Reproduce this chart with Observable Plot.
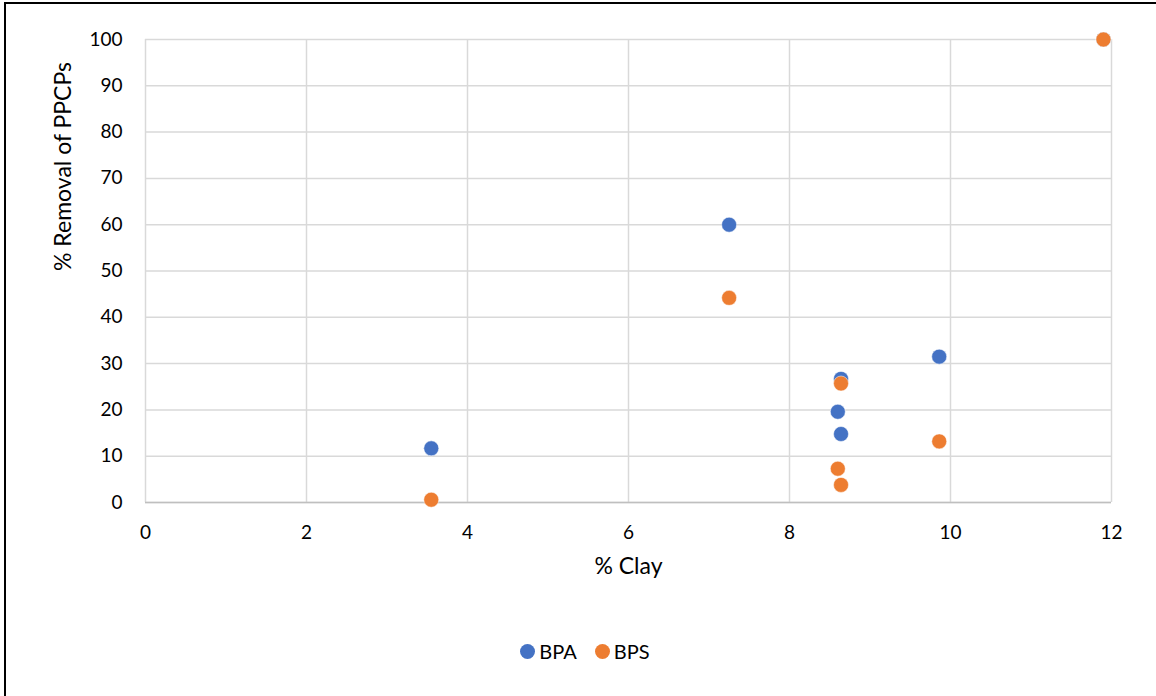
<!DOCTYPE html>
<html>
<head>
<meta charset="utf-8">
<script src="https://cdn.jsdelivr.net/npm/d3@7"></script>
<script src="https://cdn.jsdelivr.net/npm/@observablehq/plot@0.6"></script>
<style>
  html, body { margin: 0; padding: 0; background: #fff; }
  #wrap { position: relative; width: 1156px; height: 696px; overflow: hidden; font-family: Lato, "Open Sans", sans-serif; }
  #frame { position: absolute; left: 4px; top: 2px; width: 1300px; height: 900px; border-left: 2px solid #000; border-top: 2px solid #000; pointer-events: none; }
  #chart { position: absolute; left: 0; top: 0; }
  #legend { position: absolute; top: 639px; left: 0; width: 1156px; display: flex; justify-content: center; gap: 18px; font-size: 20px; color: #000; padding-left: 14px; box-sizing: border-box; }
  .item { display: flex; align-items: center; gap: 4px; }
  .sw { width: 15px; height: 15px; border-radius: 50%; display: inline-block; }
</style>
</head>
<body>
<div id="wrap">
  <div id="chart"></div>
  <div id="legend"></div>
  <div id="frame"></div>
</div>
<script>
const clay = [3.55, 7.25, 8.6, 8.64, 8.64, 9.86, 11.9];
const bpa  = [11.7, 60, 19.6, 26.7, 14.8, 31.5, 100];
const bps  = [0.6, 44.2, 7.3, 25.7, 3.8, 13.2, 100];
const seriesNames = ["BPA", "BPS"];
const seriesColors = ["#4472C4", "#ED7D31"];
const xTicks = [0, 2, 4, 6, 8, 10, 12];
const yTicks = [0, 10, 20, 30, 40, 50, 60, 70, 80, 90, 100];
const xLabel = "% Clay";
const yLabel = "% Removal of PPCPs";

const rows = [];
clay.forEach((c, i) => rows.push({clay: c, value: bpa[i], series: "BPA"}));
clay.forEach((c, i) => rows.push({clay: c, value: bps[i], series: "BPS"}));

const chart = Plot.plot({
  width: 1156,
  height: 610,
  marginLeft: 145,
  marginRight: 45,
  marginTop: 39,
  marginBottom: 108,
  style: {fontFamily: "Lato, 'Open Sans', sans-serif", fontSize: "19px", color: "#000", background: "transparent"},
  x: {domain: [0, 12]},
  y: {domain: [0, 100]},
  color: {domain: seriesNames, range: seriesColors},
  marks: [
    Plot.gridX(xTicks, {stroke: "#d9d9d9", strokeOpacity: 1, strokeWidth: 1.5}),
    Plot.gridY(yTicks, {stroke: "#d9d9d9", strokeOpacity: 1, strokeWidth: 1.5}),
    Plot.ruleY([0], {stroke: "#bfbfbf", strokeWidth: 1.5}),
    Plot.axisX({ticks: xTicks, tickSize: 0, tickPadding: 23, tickFormat: d => String(d), label: null}),
    Plot.axisY({ticks: yTicks, tickSize: 0, tickPadding: 23, tickFormat: d => String(d), label: null}),
    Plot.text([xLabel], {text: d => d, frameAnchor: "bottom", dy: 71, fontSize: 23, fill: "#000"}),
    Plot.text([yLabel], {text: d => d, frameAnchor: "left", dx: -82, rotate: -90, fontSize: 23, fill: "#000"}),
    Plot.dot(rows, {x: "clay", y: "value", fill: "series", r: 7.5, stroke: "#fff", strokeWidth: 0.5})
  ]
});
document.getElementById("chart").appendChild(chart);

const legend = document.getElementById("legend");
seriesNames.forEach((n, i) => {
  const it = document.createElement("div");
  it.className = "item";
  const sw = document.createElement("span");
  sw.className = "sw";
  sw.style.background = seriesColors[i];
  const t = document.createElement("span");
  t.textContent = n;
  it.appendChild(sw); it.appendChild(t);
  legend.appendChild(it);
});
</script>
</body>
</html>
